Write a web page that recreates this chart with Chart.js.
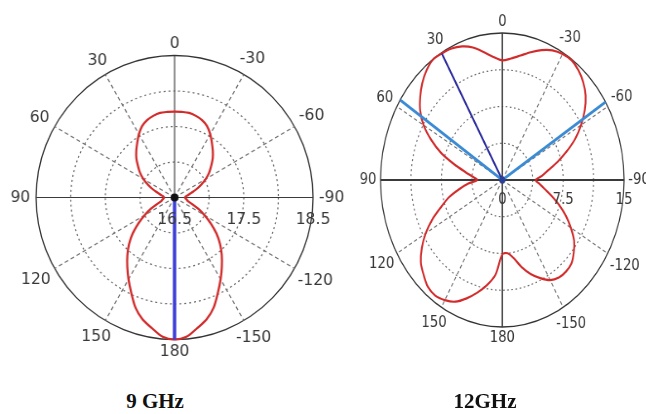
<!DOCTYPE html>
<html>
<head>
<meta charset="utf-8">
<script src="https://cdn.jsdelivr.net/npm/chart.js@4.4.1/dist/chart.umd.min.js"></script>
<style>
  html, body { margin: 0; padding: 0; background: #fff; }
  #wrap { position: relative; width: 646px; height: 414px; overflow: hidden; }
  canvas { position: absolute; top: 0; }
  .title { position: absolute; top: 389px; width: 150px; text-align: center;
           font: bold 21px "Liberation Serif", serif; line-height: 24px; color: #111; }
</style>
</head>
<body>
<div id="wrap">
  <!-- drawn as circles, then squeezed sideways like the source figure -->
  <canvas id="c9" width="362" height="372" style="left:0;width:353.4px;height:372px"></canvas>
  <canvas id="c12" width="396" height="372" style="left:330px;width:327.6px;height:372px"></canvas>
  <div class="title" style="left:80px">9 GHz</div>
  <div class="title" style="left:410px">12GHz</div>
</div>
<script>
// Traces sampled every 5 deg, clockwise from the top (sample k -> 5k deg).
// The plots count angles the other way, so sample k sits at the "-5k" mark.
const sampleStep = 5;

const gain9 = [
  17.71, 17.71, 17.71, 17.69, 17.66, 17.61, 17.53, 17.44, 17.36, 17.28, 17.19, 17.11,
  17.02, 16.92, 16.83, 16.75, 16.70, 16.66, 16.65, 16.66, 16.68, 16.70, 16.77, 16.88,
  17.00, 17.14, 17.29, 17.43, 17.56, 17.69, 17.83, 17.98, 18.15, 18.28, 18.37, 18.47,
  18.50, 18.47, 18.37, 18.28, 18.15, 17.98, 17.83, 17.69, 17.56, 17.43, 17.29, 17.14,
  17.00, 16.88, 16.77, 16.70, 16.68, 16.66, 16.65, 16.66, 16.70, 16.75, 16.83, 16.92,
  17.02, 17.11, 17.19, 17.28, 17.36, 17.44, 17.53, 17.61, 17.66, 17.69, 17.71, 17.71
];

const gain12 = [
  12.2, 12.45, 12.9, 13.5, 14.1, 14.6, 14.85, 14.9, 14.6, 14.1, 13.4, 12.4,
  11.2, 9.9, 8.4, 7.0, 5.75, 4.9, 4.1, 4.6, 5.3, 6.3, 7.45, 8.65,
  9.75, 10.8, 11.5, 12.05, 12.2, 12.15, 11.8, 11.05, 10.2, 9.2, 8.1, 7.5,
  7.6, 9.7, 10.9, 11.9, 12.85, 13.7, 14.15, 14.4, 14.25, 13.7, 13.1, 12.1,
  10.9, 9.5, 8.0, 6.8, 5.4, 4.2, 3.1, 3.6, 4.6, 6.1, 8.0, 9.65,
  11.2, 12.35, 13.2, 13.95, 14.55, 14.95, 14.9, 14.8, 14.5, 14.0, 13.27, 12.6
];

// angle marks, every 30 deg going clockwise from the top
const angleMarks = ['0', '-30', '-60', '-90', '-120', '-150', '180', '150', '120', '90', '60', '30'];

// radial rings and the ones that get a number
const rings9 = [16.5, 17, 17.5, 18, 18.5];
const ringLabels9 = [16.5, 17.5, 18.5];
const rings12 = [0, 3.75, 7.5, 11.25, 15];
const ringLabels12 = [0, 7.5, 15];

// cursor lines (clockwise degrees, value at the outer end)
const cursor9Angles = [180];
const cursor9Values = [18.5];
const cursor12DarkAngles = [330];
const cursor12DarkValues = [14.9];
const cursor12LightAngles = [58, 303];
const cursor12LightValues = [15, 15];

const degrees = Array.from({ length: 360 }, (_, i) => i);

function onDegrees(values) {
  const out = new Array(360).fill(null);
  values.forEach((v, k) => { out[k * sampleStep] = v; });
  return out;
}

// each cursor: outer point, then the next slot back at the centre
function cursorData(angles, values, centre) {
  const out = new Array(360).fill(null);
  angles.forEach((a, k) => { out[a] = values[k]; out[(a + 1) % 360] = centre; });
  return out;
}

const polarText = {
  id: 'polarText',
  afterDraw(chart, args, o) {
    const s = chart.scales.r;
    const ctx = chart.ctx;
    ctx.save();
    ctx.font = '16px "DejaVu Sans"';
    ctx.fillStyle = '#383838';
    ctx.textAlign = 'center';
    ctx.textBaseline = 'middle';
    angleMarks.forEach((txt, k) => {
      const i = k * 30;
      const a = s.getIndexAngle(i);
      const w = ctx.measureText(txt).width;
      const d = s.drawingArea + o.pad + Math.abs(Math.sin(a)) * w / 2 + Math.abs(Math.cos(a)) * 6;
      const p = s.getPointPosition(i, d);
      ctx.fillText(txt, p.x, p.y);
    });
    o.values.forEach(v => {
      const p = s.getPointPositionForValue(90, v);
      ctx.fillText(String(v), p.x, p.y + o.drop);
    });
    ctx.beginPath();
    ctx.arc(s.xCenter, s.yCenter, o.dot, 0, Math.PI * 2);
    ctx.fillStyle = o.dotColor;
    ctx.fill();
    ctx.restore();
  }
};

function polarChart(id, cfg) {
  const min = cfg.rings[0];
  const max = cfg.rings[cfg.rings.length - 1];
  const cursors = cfg.cursors.map(c => ({
    data: cursorData(c.angles, c.values, min),
    borderColor: c.color,
    borderWidth: c.width,
    spanGaps: false,
    fill: false,
    pointRadius: 0,
    tension: 0
  }));
  return new Chart(document.getElementById(id), {
    type: 'radar',
    data: {
      labels: degrees,
      datasets: cursors.concat([{
        data: onDegrees(cfg.gain),
        borderColor: '#d22b2b',
        borderWidth: 2.2,
        spanGaps: true,
        fill: false,
        pointRadius: 0,
        tension: 0.3
      }])
    },
    options: {
      responsive: false,
      animation: false,
      events: [],
      plugins: {
        legend: { display: false },
        tooltip: { enabled: false },
        polarText: { pad: cfg.pad, values: cfg.ringLabels, drop: cfg.drop, dot: cfg.dot, dotColor: cfg.dotColor }
      },
      scales: {
        r: {
          min: min,
          max: max,
          startAngle: 0,
          ticks: { display: false, stepSize: cfg.rings[1] - cfg.rings[0] },
          pointLabels: { display: false },
          grid: {
            circular: true,
            color: c => (c.tick && c.tick.value === max) ? '#333' : '#6a6a6a',
            lineWidth: c => (c.tick && c.tick.value === max) ? 1.3 : 1.2
          },
          border: { dash: c => (c.tick && c.tick.value === max) ? [] : [2, 3] },
          angleLines: {
            color: c => c.index % 90 === 0 ? '#3a3a3a' : '#707070',
            lineWidth: c => c.index % 90 === 0 ? cfg.axisWidth : (c.index % 30 === 0 ? 1.2 : 0),
            borderDash: c => c.index % 90 === 0 ? [] : [4, 3]
          },
          afterFit: s => { s.xCenter = cfg.cx; s.yCenter = cfg.cy; s.drawingArea = cfg.R; }
        }
      }
    },
    plugins: [polarText]
  });
}

polarChart('c9', {
  gain: gain9, rings: rings9, ringLabels: ringLabels9,
  cx: 179, cy: 197.5, R: 142, pad: 6, drop: 22, axisWidth: 1.1,
  dot: 4, dotColor: '#111',
  cursors: [{ angles: cursor9Angles, values: cursor9Values, color: '#3c3cd8', width: 3.5 }]
});

polarChart('c12', {
  gain: gain12, rings: rings12, ringLabels: ringLabels12,
  cx: 208, cy: 180, R: 147, pad: 5, drop: 20, axisWidth: 1.8,
  dot: 3.5, dotColor: '#2a3f9c',
  cursors: [
    { angles: cursor12DarkAngles, values: cursor12DarkValues, color: '#2b2b9e', width: 2.2 },
    { angles: cursor12LightAngles, values: cursor12LightValues, color: '#3a8ad4', width: 3 }
  ]
});
</script>
</body>
</html>
